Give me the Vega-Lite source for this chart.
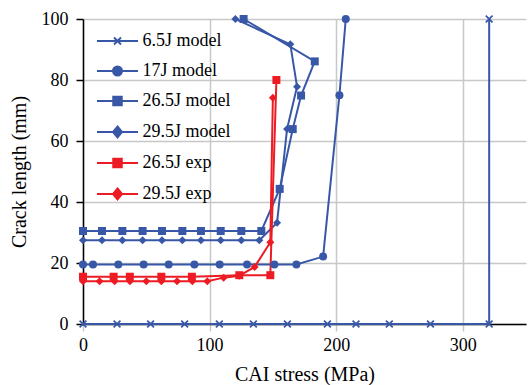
{
  "$schema": "https://vega.github.io/schema/vega-lite/v6.json",
  "width": 443,
  "height": 305,
  "autosize": "none",
  "padding": {"left": 83, "top": 19, "right": 2, "bottom": 61},
  "config": {
    "view": {"stroke": null},
    "font": "Liberation Serif",
    "axis": {"labelFont": "Liberation Serif", "titleFont": "Liberation Serif"},
    "legend": {"labelFont": "Liberation Serif"}
  },
  "data": {"values": [
    {"s": "6.5J model", "i": 0, "x": 0, "y": 0},
    {"s": "6.5J model", "i": 1, "x": 26.9, "y": 0},
    {"s": "6.5J model", "i": 2, "x": 53.4, "y": 0},
    {"s": "6.5J model", "i": 3, "x": 80.3, "y": 0},
    {"s": "6.5J model", "i": 4, "x": 107.7, "y": 0},
    {"s": "6.5J model", "i": 5, "x": 134.6, "y": 0},
    {"s": "6.5J model", "i": 6, "x": 161.5, "y": 0},
    {"s": "6.5J model", "i": 7, "x": 193.1, "y": 0},
    {"s": "6.5J model", "i": 8, "x": 215.7, "y": 0},
    {"s": "6.5J model", "i": 9, "x": 242, "y": 0},
    {"s": "6.5J model", "i": 10, "x": 274.5, "y": 0},
    {"s": "6.5J model", "i": 11, "x": 320.9, "y": 0},
    {"s": "6.5J model", "i": 12, "x": 320.9, "y": 100},
    {"s": "17J model", "i": 0, "x": 0, "y": 19.5},
    {"s": "17J model", "i": 1, "x": 7.9, "y": 19.5},
    {"s": "17J model", "i": 2, "x": 27.9, "y": 19.5},
    {"s": "17J model", "i": 3, "x": 47.9, "y": 19.5},
    {"s": "17J model", "i": 4, "x": 67.7, "y": 19.5},
    {"s": "17J model", "i": 5, "x": 88, "y": 19.5},
    {"s": "17J model", "i": 6, "x": 108, "y": 19.5},
    {"s": "17J model", "i": 7, "x": 129.6, "y": 19.5},
    {"s": "17J model", "i": 8, "x": 151.2, "y": 19.5},
    {"s": "17J model", "i": 9, "x": 168.6, "y": 19.5},
    {"s": "17J model", "i": 10, "x": 189.7, "y": 22.1},
    {"s": "17J model", "i": 11, "x": 202.6, "y": 75},
    {"s": "17J model", "i": 12, "x": 207.6, "y": 100},
    {"s": "26.5J model", "i": 0, "x": 0, "y": 30.5},
    {"s": "26.5J model", "i": 1, "x": 15, "y": 30.5},
    {"s": "26.5J model", "i": 2, "x": 31.1, "y": 30.5},
    {"s": "26.5J model", "i": 3, "x": 47.1, "y": 30.5},
    {"s": "26.5J model", "i": 4, "x": 62.4, "y": 30.5},
    {"s": "26.5J model", "i": 5, "x": 78.5, "y": 30.5},
    {"s": "26.5J model", "i": 6, "x": 93.2, "y": 30.5},
    {"s": "26.5J model", "i": 7, "x": 108.8, "y": 30.5},
    {"s": "26.5J model", "i": 8, "x": 125.1, "y": 30.5},
    {"s": "26.5J model", "i": 9, "x": 140.9, "y": 30.5},
    {"s": "26.5J model", "i": 10, "x": 155.4, "y": 44.3},
    {"s": "26.5J model", "i": 11, "x": 165.7, "y": 63.9},
    {"s": "26.5J model", "i": 12, "x": 172.3, "y": 74.9},
    {"s": "26.5J model", "i": 13, "x": 183.1, "y": 86.1},
    {"s": "26.5J model", "i": 14, "x": 126.9, "y": 100},
    {"s": "29.5J model", "i": 0, "x": 0, "y": 27.5},
    {"s": "29.5J model", "i": 1, "x": 15, "y": 27.5},
    {"s": "29.5J model", "i": 2, "x": 31.1, "y": 27.5},
    {"s": "29.5J model", "i": 3, "x": 47.1, "y": 27.5},
    {"s": "29.5J model", "i": 4, "x": 62.4, "y": 27.5},
    {"s": "29.5J model", "i": 5, "x": 78.5, "y": 27.5},
    {"s": "29.5J model", "i": 6, "x": 93.2, "y": 27.5},
    {"s": "29.5J model", "i": 7, "x": 108.8, "y": 27.5},
    {"s": "29.5J model", "i": 8, "x": 125.1, "y": 27.5},
    {"s": "29.5J model", "i": 9, "x": 139.3, "y": 27.5},
    {"s": "29.5J model", "i": 10, "x": 153.3, "y": 33.2},
    {"s": "29.5J model", "i": 11, "x": 161.2, "y": 63.9},
    {"s": "29.5J model", "i": 12, "x": 169.1, "y": 77.8},
    {"s": "29.5J model", "i": 13, "x": 163.8, "y": 91.7},
    {"s": "29.5J model", "i": 14, "x": 120.4, "y": 100},
    {"s": "26.5J exp", "i": 0, "x": 0, "y": 15.5},
    {"s": "26.5J exp", "i": 1, "x": 24.2, "y": 15.5},
    {"s": "26.5J exp", "i": 2, "x": 37, "y": 15.5},
    {"s": "26.5J exp", "i": 3, "x": 61.9, "y": 15.5},
    {"s": "26.5J exp", "i": 4, "x": 86, "y": 15.5},
    {"s": "26.5J exp", "i": 5, "x": 123.5, "y": 16},
    {"s": "26.5J exp", "i": 6, "x": 148, "y": 16},
    {"s": "26.5J exp", "i": 7, "x": 152.8, "y": 80},
    {"s": "29.5J exp", "i": 0, "x": 0, "y": 14},
    {"s": "29.5J exp", "i": 1, "x": 13.1, "y": 14},
    {"s": "29.5J exp", "i": 2, "x": 25, "y": 14},
    {"s": "29.5J exp", "i": 3, "x": 37.1, "y": 14},
    {"s": "29.5J exp", "i": 4, "x": 50, "y": 14},
    {"s": "29.5J exp", "i": 5, "x": 61.9, "y": 14},
    {"s": "29.5J exp", "i": 6, "x": 74.3, "y": 14},
    {"s": "29.5J exp", "i": 7, "x": 86.4, "y": 14},
    {"s": "29.5J exp", "i": 8, "x": 98.2, "y": 14},
    {"s": "29.5J exp", "i": 9, "x": 111.1, "y": 15.2},
    {"s": "29.5J exp", "i": 10, "x": 123.5, "y": 15.8},
    {"s": "29.5J exp", "i": 11, "x": 135.6, "y": 18.7},
    {"s": "29.5J exp", "i": 12, "x": 148, "y": 26.8},
    {"s": "29.5J exp", "i": 13, "x": 150, "y": 74.2}
  ]},
  "encoding": {
    "x": {
      "field": "x", "type": "quantitative",
      "scale": {"domain": [0, 350], "nice": false, "zero": false},
      "axis": {
        "values": [0, 100, 200, 300], "grid": true, "gridColor": "#c8c8c8", "gridWidth": 1.5,
        "domainColor": "black", "domainWidth": 1.5, "tickColor": "#c8c8c8", "tickSize": 7, "tickWidth": 1.5,
        "labelFont": "Liberation Serif", "labelFontSize": 18, "labelColor": "black", "labelPadding": 5, "labelFlush": false,
        "title": "CAI stress (MPa)", "titleFont": "Liberation Serif", "titleFontSize": 20, "titleFontWeight": "normal",
        "titleColor": "black", "titlePadding": 10, "zindex": 0
      }
    },
    "y": {
      "field": "y", "type": "quantitative",
      "scale": {"domain": [0, 100], "nice": false},
      "axis": {
        "values": [0, 20, 40, 60, 80, 100], "grid": true, "gridColor": "#c8c8c8", "gridWidth": 1.5,
        "domainColor": "black", "domainWidth": 1.5, "tickColor": "black", "tickSize": 7, "tickWidth": 1.5,
        "labelFont": "Liberation Serif", "labelFontSize": 18, "labelColor": "black", "labelPadding": 8,
        "title": "Crack length (mm)", "titleFont": "Liberation Serif", "titleFontSize": 20, "titleFontWeight": "normal",
        "titleColor": "black", "titlePadding": 12, "zindex": 0
      }
    },
    "color": {
      "field": "s", "type": "nominal",
      "scale": {
        "domain": ["6.5J model", "17J model", "26.5J model", "29.5J model", "26.5J exp", "29.5J exp"],
        "range": ["#3857A6", "#3857A6", "#3857A6", "#3857A6", "#ED1C24", "#ED1C24"]
      },
      "legend": {
        "title": null, "orient": "top-left", "offset": 13, "padding": 0, "rowPadding": 12,
        "labelFont": "Liberation Serif", "labelFontSize": 18, "labelColor": "black",
        "symbolSize": 100, "symbolStrokeWidth": 2, "symbolOpacity": 1,
        "symbolOffset": 12.5, "labelOffset": 16
      }
    }
  },
  "layer": [
    {
      "mark": {"type": "line", "strokeWidth": 2},
      "encoding": {
        "order": {"field": "i", "type": "quantitative"}
      }
    },
    {
      "mark": {"type": "point", "filled": true, "size": 100, "opacity": 0},
      "encoding": {
        "shape": {
          "field": "s", "type": "nominal",
          "scale": {
            "domain": ["6.5J model", "17J model", "26.5J model", "29.5J model", "26.5J exp", "29.5J exp"],
            "range": [
              "M-4.1,0H4.1M-0.7,-0.7L0.7,0.7M-0.7,0.7L0.7,-0.7",
              "M-4.1,0H4.1M0.9,0A0.9,0.9,0,1,1,-0.9,0A0.9,0.9,0,1,1,0.9,0Z",
              "M-4.1,0H4.1M-0.85,-0.85H0.85V0.85H-0.85Z",
              "M-4.1,0H4.1M0,-1.1L0.9,0L0,1.1L-0.9,0Z",
              "M-4.1,0H4.1M-0.85,-0.85H0.85V0.85H-0.85Z",
              "M-4.1,0H4.1M0,-1.1L0.9,0L0,1.1L-0.9,0Z"
            ]
          },
          "legend": {
            "title": null, "orient": "top-left", "offset": 13, "padding": 0, "rowPadding": 12,
            "labelFont": "Liberation Serif", "labelFontSize": 18, "labelColor": "black",
            "symbolSize": 100, "symbolStrokeWidth": 2, "symbolOpacity": 1,
            "symbolOffset": 12.5, "labelOffset": 16
          }
        }
      }
    },
    {
      "transform": [{"filter": {"field": "s", "equal": "6.5J model"}}],
      "mark": {"type": "point", "filled": true, "size": 64, "strokeWidth": 0, "opacity": 1,
               "shape": "M-1,-0.7L-0.7,-1L0,-0.3L0.7,-1L1,-0.7L0.3,0L1,0.7L0.7,1L0,0.3L-0.7,1L-1,0.7L-0.3,0Z"}
    },
    {
      "transform": [{"filter": {"field": "s", "equal": "17J model"}}],
      "mark": {"type": "point", "filled": true, "size": 64, "strokeWidth": 0, "opacity": 1, "shape": "circle"}
    },
    {
      "transform": [{"filter": {"field": "s", "oneOf": ["26.5J model", "26.5J exp"]}}],
      "mark": {"type": "point", "filled": true, "size": 64, "strokeWidth": 0, "opacity": 1, "shape": "square"}
    },
    {
      "transform": [{"filter": {"field": "s", "oneOf": ["29.5J model", "29.5J exp"]}}],
      "mark": {"type": "point", "filled": true, "size": 64, "strokeWidth": 0, "opacity": 1, "shape": "diamond"}
    }
  ]
}
